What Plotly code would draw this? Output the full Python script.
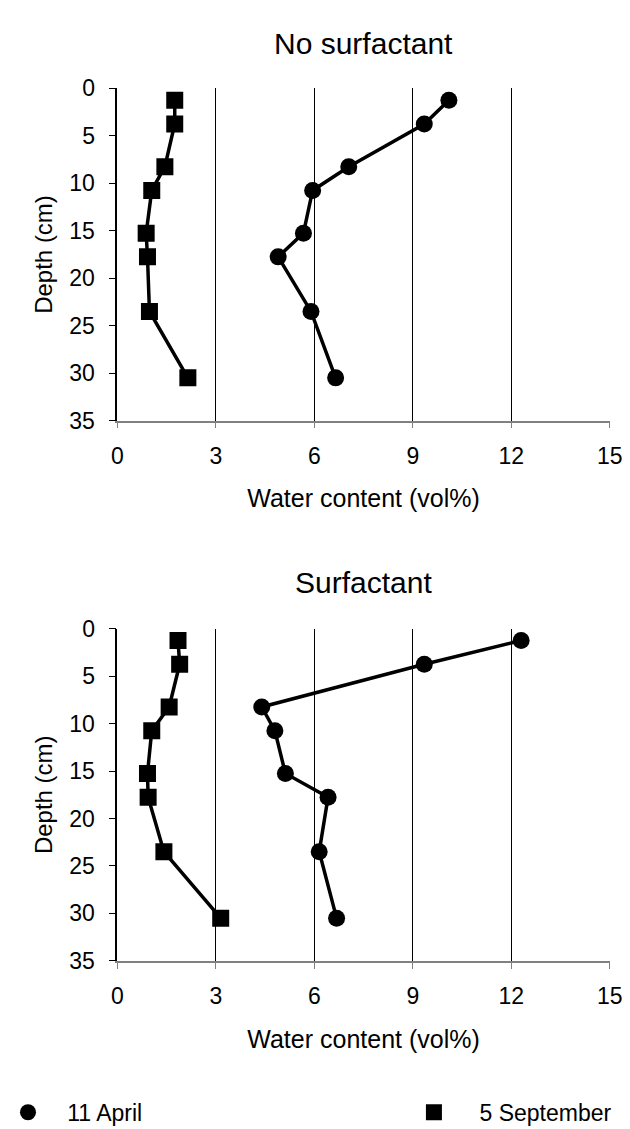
import plotly.graph_objects as go

depth = [1.25, 3.75, 8.25, 10.75, 15.25, 17.75, 23.5, 30.5]

no_surf_april = [10.1, 9.35, 7.05, 5.95, 5.67, 4.9, 5.9, 6.65]
no_surf_sept = [1.75, 1.75, 1.45, 1.05, 0.88, 0.92, 0.98, 2.15]

surf_april = [12.3, 9.35, 4.4, 4.8, 5.12, 6.42, 6.15, 6.68]
surf_sept = [1.85, 1.9, 1.58, 1.05, 0.92, 0.94, 1.42, 3.15]

x_ticks = [0, 3, 6, 9, 12, 15]
y_ticks = [0, 5, 10, 15, 20, 25, 30, 35]
titles = ["No surfactant", "Surfactant"]
legend_names = ["11 April", "5 September"]

FONT = "Liberation Sans, Arial, sans-serif"
H = 1129.0
NB = "\u00a0"

fig = go.Figure()

circ = dict(symbol="circle", size=17, color="black")
sq = dict(symbol="square", size=17, color="black")

panels = [(no_surf_april, no_surf_sept, "x", "y"), (surf_april, surf_sept, "x2", "y2")]
for apr, sep, xa, ya in panels:
    fig.add_trace(go.Scatter(x=apr, y=depth, mode="lines+markers", xaxis=xa, yaxis=ya,
                             line=dict(color="black", width=3.5), marker=circ, showlegend=False))
    fig.add_trace(go.Scatter(x=sep, y=depth, mode="lines+markers", xaxis=xa, yaxis=ya,
                             line=dict(color="black", width=3.5), marker=sq, showlegend=False))

# legend-only entries (markers only)
fig.add_trace(go.Scatter(x=[None], y=[None], mode="markers", marker=dict(symbol="circle", size=16, color="black"),
                         name=NB * 3 + legend_names[0], showlegend=True, legend="legend"))
fig.add_trace(go.Scatter(x=[None], y=[None], mode="markers", marker=dict(symbol="square", size=16, color="black"),
                         name=NB * 4 + legend_names[1], showlegend=True, legend="legend2"))

xdom = [96 / 630, 614 / 630]
top_dom = [1 - 409 / H, 1 - 69 / H]
bot_dom = [1 - 962 / H, 1 - 622 / H]

xcommon = dict(range=[0, 15], tickvals=x_ticks, showgrid=True, gridcolor="black", gridwidth=1,
               zeroline=False, showline=True, linecolor="#808080", linewidth=1.5,
               ticks="outside", ticklen=6, tickcolor="#808080", ticklabelstandoff=8,
               tickfont=dict(family=FONT, size=23, color="black"),
               title=dict(text="Water content (vol%)", font=dict(family=FONT, size=25, color="black"), standoff=22),
               domain=xdom)
ycommon = dict(range=[35, 0], tickvals=y_ticks, showgrid=False, zeroline=False, showline=True,
               linecolor="black", linewidth=1.5, ticks="outside", ticklen=7, tickcolor="black",
               ticklabelstandoff=9,
               tickfont=dict(family=FONT, size=23, color="black"),
               title=dict(text="Depth (cm)", font=dict(family=FONT, size=24, color="black"), standoff=10))

fig.update_layout(
    xaxis=dict(**xcommon, anchor="y"),
    yaxis=dict(**ycommon, domain=top_dom, anchor="x"),
    xaxis2=dict(**xcommon, anchor="y2"),
    yaxis2=dict(**ycommon, domain=bot_dom, anchor="x2"),
)

fig.add_annotation(text=titles[0], x=(xdom[0] + xdom[1]) / 2, y=1 - 23 / H, xref="paper", yref="paper",
                   showarrow=False, font=dict(family=FONT, size=30, color="black"), yanchor="middle")
fig.add_annotation(text=titles[1], x=(xdom[0] + xdom[1]) / 2, y=1 - 575 / H, xref="paper", yref="paper",
                   showarrow=False, font=dict(family=FONT, size=30, color="black"), yanchor="middle")

leg_common = dict(orientation="h", y=1 - 1117 / H, yanchor="middle", xanchor="left",
                  font=dict(family=FONT, size=23, color="black"), bgcolor="rgba(0,0,0,0)",
                  borderwidth=0)
fig.update_layout(
    width=630, height=1129,
    margin=dict(l=0, r=0, t=0, b=0),
    paper_bgcolor="white", plot_bgcolor="white",
    legend=dict(**leg_common, x=-19 / 630),
    legend2=dict(**leg_common, x=408 / 630),
)

fig.write_html("out.html")
